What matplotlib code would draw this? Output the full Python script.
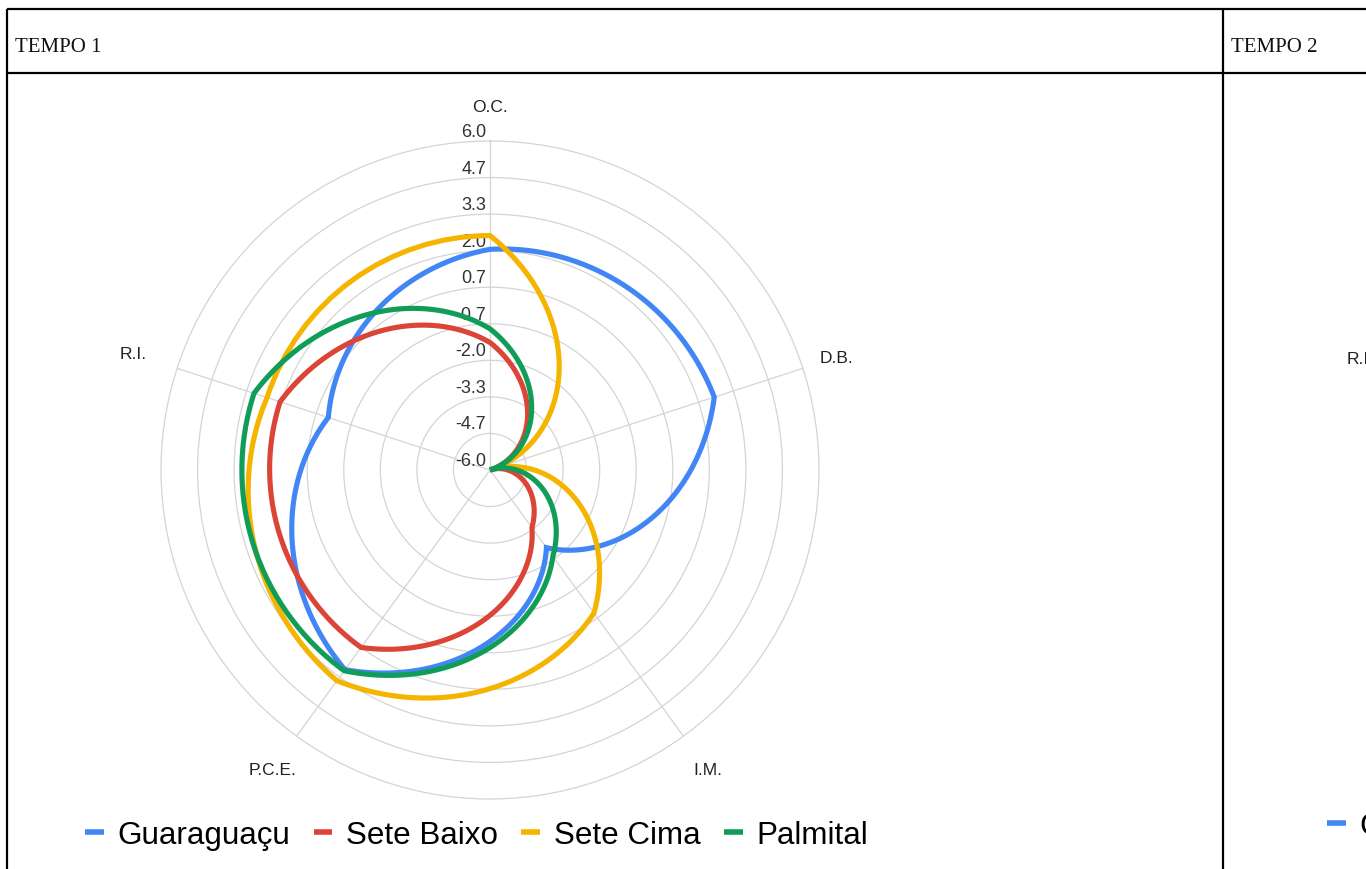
import numpy as np
import matplotlib
matplotlib.use("Agg")
import matplotlib.pyplot as plt
from matplotlib.path import Path
from matplotlib.patches import PathPatch
from matplotlib.lines import Line2D
import matplotlib.transforms as mtransforms

# ---------------- data ----------------
categories = ["O.C.", "D.B.", "I.M.", "P.C.E.", "R.I."]
series_names = ["Guaraguaçu", "Sete Baixo", "Sete Cima", "Palmital"]
guaraguacu = [2.05, 2.6, -2.5, 3.0, 0.2]
sete_baixo = [-1.35, -6.0, -3.4, 2.0, 2.05]
sete_cima = [2.55, -6.0, 0.45, 3.5, 2.55]
palmital = [-0.85, -6.0, -2.1, 3.05, 3.05]
r_tick_values = [-6.0, -4.6667, -3.3333, -2.0, -0.6667, 0.6667, 2.0, 3.3333, 4.6667, 6.0]
r_tick_labels = ["-6.0", "-4.7", "-3.3", "-2.0", "-0.7", "0.7", "2.0", "3.3", "4.7", "6.0"]
header_labels = ["TEMPO 1", "TEMPO 2"]

series = [guaraguacu, sete_baixo, sete_cima, palmital]
colors = ["#4285F4", "#DB4437", "#F4B400", "#0F9D58"]

# ---------------- layout ----------------
W, H = 1366, 870
fig = plt.figure(figsize=(W / 100, H / 100), dpi=100)
fig.patch.set_facecolor("white")

bg = fig.add_axes([0, 0, 1, 1])
bg.set_xlim(0, W)
bg.set_ylim(H, 0)
bg.axis("off")

# table frame
frame_kw = dict(color="black", lw=1.6, solid_capstyle="butt")
bg.add_line(Line2D([7, W], [10, 10], **frame_kw))
bg.add_line(Line2D([7, W], [74, 74], **frame_kw))
bg.add_line(Line2D([7, 7], [10, H], **frame_kw))
bg.add_line(Line2D([1223, 1223], [10, H], **frame_kw))
serif = ["Liberation Serif", "DejaVu Serif"]
bg.text(15, 47, header_labels[0], family=serif, fontsize=15, va="center", ha="left", color="#111")
bg.text(1231, 47, header_labels[1], family=serif, fontsize=15, va="center", ha="left", color="#111")

sans = ["Liberation Sans", "DejaVu Sans"]

# polar chart
cx, cy, R = 490, 471, 329
ax = fig.add_axes([(cx - R) / W, 1 - (cy + R) / H, 2 * R / W, 2 * R / H], projection="polar")
ax.set_facecolor("none")
ax.set_theta_offset(np.pi / 2)
ax.set_theta_direction(-1)

n = len(categories)
theta = np.arange(n) * 2 * np.pi / n
theta_closed = np.append(theta, 2 * np.pi)

for vals, color in zip(series, colors):
    r = np.append(vals, vals[0])
    verts = np.column_stack([theta_closed, r])
    verts = np.vstack([verts, verts[:1]])
    codes = [Path.MOVETO] + [Path.LINETO] * n + [Path.CLOSEPOLY]
    path = Path(verts, codes, _interpolation_steps=200)
    patch = PathPatch(path, transform=ax.transData, fill=False, edgecolor=color,
                      lw=3.7, joinstyle="miter", zorder=3)
    ax.add_patch(patch)

ax.set_ylim(-6, 6)
ax.set_xticks(theta)
ax.set_xticklabels([])
ax.set_yticks(r_tick_values[1:-1])
ax.set_yticklabels([])
ax.grid(True, color="#d4d4d4", lw=0.9)
ax.spines["polar"].set_color("#d4d4d4")
ax.spines["polar"].set_linewidth(0.9)
ax.tick_params(length=0)

# radial tick labels
lab_tr = ax.transData + mtransforms.ScaledTranslation(-4 / 100, 5 / 100, fig.dpi_scale_trans)
for v, s in zip(r_tick_values, r_tick_labels):
    ax.text(0, v, s, transform=lab_tr, ha="right", va="baseline", fontsize=13,
            family=sans, color="#333333", clip_on=False, zorder=2)

# category labels
cat_label_r = [7.25, 7.3, 7.5, 7.5, 7.7]
for t, lab, rr in zip(theta, categories, cat_label_r):
    ax.text(t, rr, lab, ha="center", va="center", fontsize=12.5, family=sans,
            color="#222222", clip_on=False)

# legend
handles = [Line2D([], [], color=c, lw=4, solid_capstyle="butt") for c in colors]
fig.legend(handles, series_names, loc="center left", bbox_to_anchor=(85 / W, 1 - 836 / H),
           ncol=4, frameon=False, prop={"family": sans, "size": 22.6},
           handlelength=0.6, handletextpad=0.42, columnspacing=0.76,
           borderpad=0, borderaxespad=0)

# second cell (cut off by page edge)
bg.text(1347, 360, categories[4], ha="left", va="center", fontsize=12.5, family=sans, color="#222222")
fig.legend(handles[:1], series_names[:1], loc="center left", bbox_to_anchor=(1327 / W, 1 - 827 / H),
           ncol=1, frameon=False, prop={"family": sans, "size": 22.6},
           handlelength=0.6, handletextpad=0.42, borderpad=0, borderaxespad=0)

fig.savefig("out.png", dpi=100)
